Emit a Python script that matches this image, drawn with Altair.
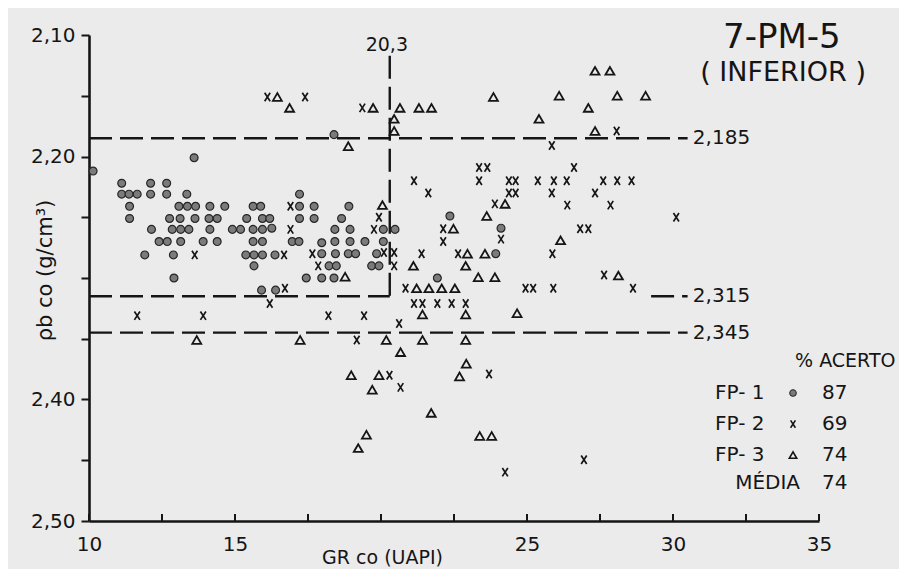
import altair as alt
import pandas as pd

# ---------------- data ----------------
# FP-1 (filled circles)
fp1_x = [10.14, 13.60, 18.39,
         11.12, 12.11, 12.66,
         11.12, 11.37, 11.65, 12.11, 12.66, 13.35, 17.21,
         11.39, 13.08, 13.37, 13.65, 14.14, 14.65, 15.62, 15.88, 17.21, 17.71, 18.90,
         11.39, 12.76, 13.12, 13.63, 14.11, 14.39, 15.40, 15.94, 16.19, 17.21, 17.71, 18.65, 22.36,
         12.14, 12.85, 13.14, 13.42, 14.14, 14.91, 15.19, 15.62, 15.94, 16.26, 18.42, 18.94, 20.08, 20.48, 24.11,
         12.40, 12.68, 13.14, 13.91, 14.39, 15.62, 15.94, 16.96, 17.19, 17.97, 18.42, 18.94, 19.45, 20.08,
         11.91, 12.89, 15.37, 15.65, 15.94, 16.37, 17.97, 18.44, 18.88, 19.13, 19.85, 23.93,
         15.65, 18.22, 18.47, 19.68, 19.93,
         12.91, 17.44, 17.97, 18.39, 21.93,
         15.91, 16.39]
fp1_y = [2.212, 2.201, 2.182,
         2.222, 2.222, 2.222,
         2.231, 2.231, 2.231, 2.231, 2.231, 2.231, 2.231,
         2.241, 2.241, 2.241, 2.241, 2.241, 2.241, 2.241, 2.241, 2.241, 2.241, 2.241,
         2.251, 2.251, 2.251, 2.251, 2.251, 2.251, 2.251, 2.251, 2.251, 2.251, 2.251, 2.251, 2.249,
         2.260, 2.260, 2.260, 2.260, 2.260, 2.260, 2.260, 2.260, 2.260, 2.259, 2.260, 2.260, 2.260, 2.260, 2.259,
         2.270, 2.270, 2.270, 2.270, 2.270, 2.270, 2.270, 2.270, 2.270, 2.271, 2.270, 2.270, 2.270, 2.270,
         2.281, 2.281, 2.281, 2.281, 2.281, 2.281, 2.280, 2.280, 2.280, 2.280, 2.280, 2.280,
         2.290, 2.290, 2.290, 2.290, 2.290,
         2.300, 2.300, 2.300, 2.300, 2.300,
         2.310, 2.310]

# FP-2 (x marks)
fp2_x = [16.11, 17.40, 19.36,
         28.07, 25.85,
         23.36, 23.64, 26.61,
         21.13, 23.36, 24.38, 24.61, 25.37, 25.92, 26.36, 27.61, 28.09, 28.58,
         21.62, 24.38, 24.61, 25.85, 27.33,
         23.90, 26.38, 27.86, 16.90,
         19.93, 30.11,
         16.90, 19.76, 22.13, 26.82, 27.10,
         24.11, 22.13,
         13.62, 16.68, 17.65, 20.10, 20.45, 21.39, 22.64, 25.87,
         17.85, 20.45,
         27.64,
         16.71, 20.84, 24.95, 25.21, 25.90, 28.63,
         16.19, 21.13, 21.42, 21.93, 22.42, 22.90,
         11.65, 13.91, 18.20, 19.42,
         20.62,
         19.17,
         23.70, 20.29,
         20.67,
         26.95,
         24.25]
fp2_y = [2.151, 2.151, 2.160,
         2.179, 2.191,
         2.209, 2.209, 2.209,
         2.220, 2.220, 2.220, 2.220, 2.220, 2.220, 2.220, 2.220, 2.220, 2.220,
         2.230, 2.230, 2.230, 2.230, 2.230,
         2.239, 2.240, 2.240, 2.241,
         2.250, 2.250,
         2.260, 2.260, 2.2595, 2.2595, 2.2595,
         2.268, 2.270,
         2.281, 2.281, 2.280, 2.279, 2.279, 2.280, 2.280, 2.280,
         2.290, 2.290,
         2.2975,
         2.3085, 2.3085, 2.3085, 2.3085, 2.3085, 2.3085,
         2.321, 2.321, 2.321, 2.321, 2.321, 2.321,
         2.331, 2.331, 2.331, 2.331,
         2.3375,
         2.351,
         2.379, 2.380,
         2.390,
         2.4496,
         2.4598]

# FP-3 (open triangles)
fp3_x = [27.33, 27.84,
         16.45, 23.85, 26.10, 28.09, 29.06,
         16.87, 19.73, 20.65, 21.30, 21.73, 27.10,
         20.45, 25.41,
         20.45, 27.33,
         18.88,
         20.05, 24.25,
         23.62,
         22.48,
         26.15,
         22.96, 23.56,
         21.11, 22.90,
         18.77, 23.33, 23.90, 28.13,
         21.22, 21.64, 22.08, 22.53,
         21.42, 22.90, 24.66,
         13.69, 17.23, 20.18, 21.42, 22.90,
         20.67,
         22.92,
         18.98, 19.93, 22.69,
         19.70,
         21.72,
         19.50, 23.38, 23.79,
         19.22]
fp3_y = [2.1295, 2.1295,
         2.151, 2.151, 2.150, 2.150, 2.150,
         2.160, 2.160, 2.160, 2.160, 2.160, 2.160,
         2.169, 2.169,
         2.179, 2.179,
         2.1915,
         2.240, 2.239,
         2.249,
         2.2595,
         2.269,
         2.280, 2.280,
         2.290, 2.290,
         2.299, 2.2994, 2.2994, 2.298,
         2.3085, 2.3085, 2.3085, 2.3085,
         2.330, 2.330, 2.329,
         2.351, 2.351, 2.351, 2.351, 2.351,
         2.361,
         2.3705,
         2.380, 2.380, 2.381,
         2.392,
         2.411,
         2.429, 2.430, 2.430,
         2.440]

x_ticks = [10, 12.5, 15, 17.5, 20, 22.5, 25, 27.5, 30, 32.5, 35]
x_labels = [10, 15, 25, 30, 35]
y_ticks = [2.10, 2.15, 2.20, 2.25, 2.30, 2.35, 2.40, 2.45, 2.50]
y_labels = [2.10, 2.20, 2.40, 2.50]

limits = [2.185, 2.315, 2.345]
gr_cut = 20.3

legend_names = ["FP- 1", "FP- 2", "FP- 3"]
legend_pct = [87, 69, 74]
media_pct = 74

# ---------------- layout / styling ----------------
W, H = 730, 486
FONT = "DejaVu Sans"
INK = "#151515"

def comma(v, nd):
    return f"{v:.{nd}f}".replace(".", ",")

xs = alt.Scale(domain=[10, 35], nice=False, zero=False)
ys = alt.Scale(domain=[2.10, 2.50], reverse=True, nice=False, zero=False)

x_label_expr = f"indexof({x_labels}, datum.value) >= 0 ? format(datum.value, 'd') : ''"
y_cond = " || ".join(f"abs(datum.value - {v}) < 0.001" for v in y_labels)
y_label_expr = f"({y_cond}) ? replace(format(datum.value, '.2f'), '.', ',') : ''"

x_axis = alt.Axis(values=x_ticks, labelExpr=x_label_expr, title="GR co (UAPI)",
                  grid=False, ticks=False, tickSize=0, labelPadding=13,
                  domainColor=INK, domainWidth=2.6, labelFont=FONT, labelFontSize=20,
                  labelColor=INK, titleFont=FONT, titleFontSize=19, titleFontWeight="normal",
                  titleColor=INK, titleX=293, titleY=36, titleAlign="center",
                  titleBaseline="middle", labelFlush=False, labelOverlap=False)
y_axis = alt.Axis(values=y_ticks, labelExpr=y_label_expr, title="ρb co (g/cm³)",
                  grid=False, tickSize=8, tickWidth=2, tickColor=INK, labelPadding=6,
                  domainColor=INK, domainWidth=2.6, labelFont=FONT, labelFontSize=20,
                  labelColor=INK, titleFont=FONT, titleFontSize=21, titleFontWeight="normal",
                  titleColor=INK, titleAngle=270, titleX=-44, titleY=235,
                  titleAlign="center", titleBaseline="middle", labelFlush=False,
                  labelOverlap=False)

X = alt.X("x:Q", scale=xs, axis=x_axis)
Y = alt.Y("y:Q", scale=ys, axis=y_axis)

# points
p1 = alt.Chart(pd.DataFrame({"x": fp1_x, "y": fp1_y})).mark_point(
    shape="circle", filled=True, fill="#7b7b7b", stroke="#262626", strokeWidth=1.2,
    size=62, opacity=1, fillOpacity=1, strokeOpacity=1).encode(x=X, y=Y)

XSHAPE = "M-0.65,-1L0.65,1M0.65,-1L-0.65,1"
p2 = alt.Chart(pd.DataFrame({"x": fp2_x, "y": fp2_y})).mark_point(
    shape=XSHAPE, filled=False, stroke=INK, strokeWidth=1.7, size=72,
    opacity=1).encode(x=X, y=Y)

p3 = alt.Chart(pd.DataFrame({"x": fp3_x, "y": fp3_y})).mark_point(
    shape="triangle-up", filled=False, stroke=INK, strokeWidth=1.8, size=80,
    opacity=1).encode(x=X, y=Y)

# dashed limit lines
line_end = 30.5
segs = pd.DataFrame({
    "x":  [10, 10, 29.25, 10, gr_cut],
    "x2": [line_end, gr_cut, line_end, line_end, gr_cut],
    "y":  [limits[0], limits[1], limits[1], limits[2], 2.117],
    "y2": [limits[0], limits[1], limits[1], limits[2], limits[1]],
})
dashes = alt.Chart(segs).mark_rule(stroke=INK, strokeWidth=2.4, strokeDash=[23, 8]).encode(
    x=X, x2="x2:Q", y=Y, y2="y2:Q")

# inward ticks of the x axis
xt = pd.DataFrame({"x": x_ticks, "y": [2.50] * len(x_ticks), "y2": [2.4942] * len(x_ticks)})
xticks = alt.Chart(xt).mark_rule(stroke=INK, strokeWidth=2).encode(x=X, y=Y, y2="y2:Q")

# texts
def text_layer(df, **kw):
    base = dict(font=FONT, color=INK, baseline="middle")
    base.update(kw)
    return alt.Chart(df).mark_text(**base).encode(x=X, y=Y, text="t:N")

lim_txt = text_layer(pd.DataFrame({"x": [30.68] * 3, "y": limits,
                                   "t": [comma(v, 3) for v in limits]}),
                     align="left", fontSize=20)
cut_txt = text_layer(pd.DataFrame({"x": [gr_cut - 0.1], "y": [2.108], "t": [comma(gr_cut, 1)]}),
                     align="center", fontSize=19)
title1 = text_layer(pd.DataFrame({"x": [33.73], "y": [2.1025], "t": ["7-PM-5"]}),
                    align="center", fontSize=34)
title2 = text_layer(pd.DataFrame({"x": [33.77], "y": [2.1313], "t": ["( INFERIOR )"]}),
                    align="center", fontSize=27)

row_y = [2.3947, 2.4202, 2.4457]
leg_head = text_layer(pd.DataFrame({"x": [34.18], "y": [2.3683], "t": ["% ACERTO"]}),
                      align="left", fontSize=19)
leg_names = text_layer(pd.DataFrame({"x": [31.44] * 3, "y": row_y, "t": legend_names}),
                       align="left", fontSize=20)
leg_media = text_layer(pd.DataFrame({"x": [34.35], "y": [2.4687], "t": ["MÉDIA"]}),
                       align="right", fontSize=20)
leg_nums = text_layer(pd.DataFrame({"x": [35.10] * 4, "y": row_y + [2.4687],
                                    "t": [str(v) for v in legend_pct] + [str(media_pct)]}),
                      align="left", fontSize=20)
sym_x = 34.11
l1 = alt.Chart(pd.DataFrame({"x": [sym_x], "y": [row_y[0]]})).mark_point(
    shape="circle", filled=True, fill="#7b7b7b", stroke="#262626", strokeWidth=1.1,
    size=42, opacity=1).encode(x=X, y=Y)
l2 = alt.Chart(pd.DataFrame({"x": [sym_x], "y": [row_y[1]]})).mark_point(
    shape=XSHAPE, filled=False, stroke=INK, strokeWidth=1.6, size=55,
    opacity=1).encode(x=X, y=Y)
l3 = alt.Chart(pd.DataFrame({"x": [sym_x], "y": [row_y[2]]})).mark_point(
    shape="triangle-up", filled=False, stroke=INK, strokeWidth=1.6, size=55,
    opacity=1).encode(x=X, y=Y)

chart = alt.layer(
    dashes, xticks, p1, p2, p3,
    lim_txt, cut_txt, title1, title2,
    leg_head, leg_names, leg_media, leg_nums, l1, l2, l3,
).properties(
    width=W, height=H,
    autosize=alt.AutoSizeParams(type="none"),
    padding={"left": 81, "top": 27, "right": 80, "bottom": 48},
    background="#ebebeb",
).configure_view(stroke=None)

chart.save("out.html", embed_options={"renderer": "svg", "actions": False})
